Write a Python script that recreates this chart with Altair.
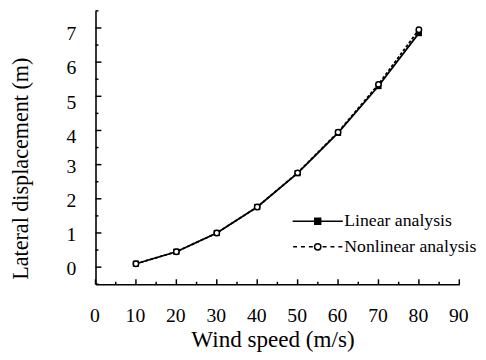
import altair as alt
import pandas as pd

# ---- data ----
wind = [10, 20, 30, 40, 50, 60, 70, 80]
linear = [0.1, 0.45, 1.0, 1.76, 2.75, 3.93, 5.3, 6.85]
nonlinear = [0.1, 0.45, 1.0, 1.76, 2.76, 3.95, 5.35, 6.95]
series_names = ["Linear analysis", "Nonlinear analysis"]
x_ticks = [0, 10, 20, 30, 40, 50, 60, 70, 80, 90]
x_minor = [5, 15, 25, 35, 45, 55, 65, 75, 85]
y_ticks = [0, 1, 2, 3, 4, 5, 6, 7]
y_minor = [-0.5, 0.5, 1.5, 2.5, 3.5, 4.5, 5.5, 6.5, 7.5]

df = pd.DataFrame({
    "wind": wind + wind,
    "disp": linear + nonlinear,
    "series": [series_names[0]] * len(wind) + [series_names[1]] * len(wind),
})

FONT = "Liberation Serif"
W, H = 370, 278
xs = alt.Scale(domain=[0, 90], nice=False, zero=False)
ys = alt.Scale(domain=[-0.5, 7.5], nice=False, zero=False)

x_label_axis = alt.Axis(
    orient="bottom", values=x_ticks, ticks=False, tickSize=0, grid=False,
    labelPadding=22, labelFont=FONT, labelFontSize=20, labelColor="black",
    labelFlush=False, labelOverlap=False, labelOffset=-1,
    domainColor="black", domainWidth=1.6,
    title="Wind speed (m/s)", titleFont=FONT, titleFontSize=23.5,
    titleFontWeight="normal", titleColor="black",
    titleX=180, titleY=63, titleAlign="center", titleBaseline="alphabetic",
)
y_label_axis = alt.Axis(
    orient="left", values=y_ticks, ticks=False, tickSize=0, grid=False,
    labelPadding=20, labelFont=FONT, labelFontSize=20, labelColor="black",
    labelFlush=False, labelOverlap=False,
    labelOffset={"condition": {"test": "datum.value >= 4", "value": 6}, "value": 2},
    domainColor="black", domainWidth=1.6,
    title="Lateral displacement (m)", titleFont=FONT, titleFontSize=22.5,
    titleFontWeight="normal", titleColor="black",
    titleX=-69, titleY=160, titleAngle=270, titleAlign="center",
    titleBaseline="alphabetic",
)

base = alt.Chart(df)

lin_line = base.transform_filter(alt.datum.series == series_names[0]).mark_line(
    color="black", strokeWidth=1.8
).encode(
    x=alt.X("wind:Q", scale=xs, axis=x_label_axis),
    y=alt.Y("disp:Q", scale=ys, axis=y_label_axis),
)
non_line = base.transform_filter(alt.datum.series == series_names[1]).mark_line(
    color="black", strokeWidth=1.8, strokeDash=[3, 2]
).encode(
    x=alt.X("wind:Q", scale=xs, axis=None),
    y=alt.Y("disp:Q", scale=ys, axis=None),
)
lin_pts = base.transform_filter(alt.datum.series == series_names[0]).mark_point(
    shape="square", filled=True, color="black", size=40, opacity=1
).encode(
    x=alt.X("wind:Q", scale=xs, axis=None),
    y=alt.Y("disp:Q", scale=ys, axis=None),
)
non_pts = base.transform_filter(alt.datum.series == series_names[1]).mark_point(
    shape="circle", fill="white", stroke="black", strokeWidth=1.5, size=30, opacity=1
).encode(
    x=alt.X("wind:Q", scale=xs, axis=None),
    y=alt.Y("disp:Q", scale=ys, axis=None),
)


# inward-pointing axis ticks (positions from the scales, lengths are styling)
def y_tick_layer(values, length):
    return alt.Chart(pd.DataFrame({"v": values})).mark_rule(
        color="black", strokeWidth=1.5
    ).encode(
        y=alt.Y("v:Q", scale=ys, axis=None),
        x=alt.value(0), x2=alt.value(length),
    )


def x_tick_layer(values, length):
    return alt.Chart(pd.DataFrame({"v": values})).mark_rule(
        color="black", strokeWidth=1.5
    ).encode(
        x=alt.X("v:Q", scale=xs, axis=None),
        y=alt.value(H), y2=alt.value(H - length),
    )


ticks = [
    y_tick_layer(y_ticks, 6), y_tick_layer(y_minor, 3),
    x_tick_layer(x_ticks, 5), x_tick_layer(x_minor, 2.5),
]

# legend symbols: line with marker (solid + square, dotted + circle)
path_lin = "M-2.55,0H2.55M-0.3,-0.3H0.3V0.3H-0.3Z"
path_non = ("M-2.5,0H-2.1M-1.7,0H-1.3M-0.9,0H-0.5M0.5,0H0.9M1.3,0H1.7M2.1,0H2.5"
            "M0.32,0A0.32,0.32,0,1,1,-0.32,0A0.32,0.32,0,1,1,0.32,0Z")
leg = alt.Legend(
    orient="none", legendX=215, legendY=203, title=None, padding=0,
    rowPadding=6, symbolSize=400, symbolStrokeWidth=1.5,
    labelFont=FONT, labelFontSize=18,
    labelColor="black", labelOffset=16,
)
legend_layer = base.transform_filter(alt.datum.wind < 0).mark_point(
    strokeWidth=1.5, opacity=1
).encode(
    x=alt.X("wind:Q", scale=xs, axis=None),
    y=alt.Y("disp:Q", scale=ys, axis=None),
    shape=alt.Shape("series:N", scale=alt.Scale(domain=series_names, range=[path_lin, path_non]), legend=leg),
    fill=alt.Fill("series:N", scale=alt.Scale(domain=series_names, range=["black", "white"]), legend=leg),
    stroke=alt.Stroke("series:N", scale=alt.Scale(domain=series_names, range=["black", "black"]), legend=leg),
)

chart = alt.layer(
    lin_line, *ticks, non_line, lin_pts, non_pts, legend_layer
).resolve_axis(
    x="independent", y="independent"
).properties(
    width=W, height=H,
    autosize=alt.AutoSizeParams(type="none"),
    padding={"left": 89, "top": 0, "right": 19, "bottom": 66},
    background="white",
).configure_view(strokeWidth=0).configure_axis(
    labelFont=FONT, titleFont=FONT
).configure_legend(labelFont=FONT)

chart.save("out.html", embed_options={"renderer": "svg", "actions": False})
